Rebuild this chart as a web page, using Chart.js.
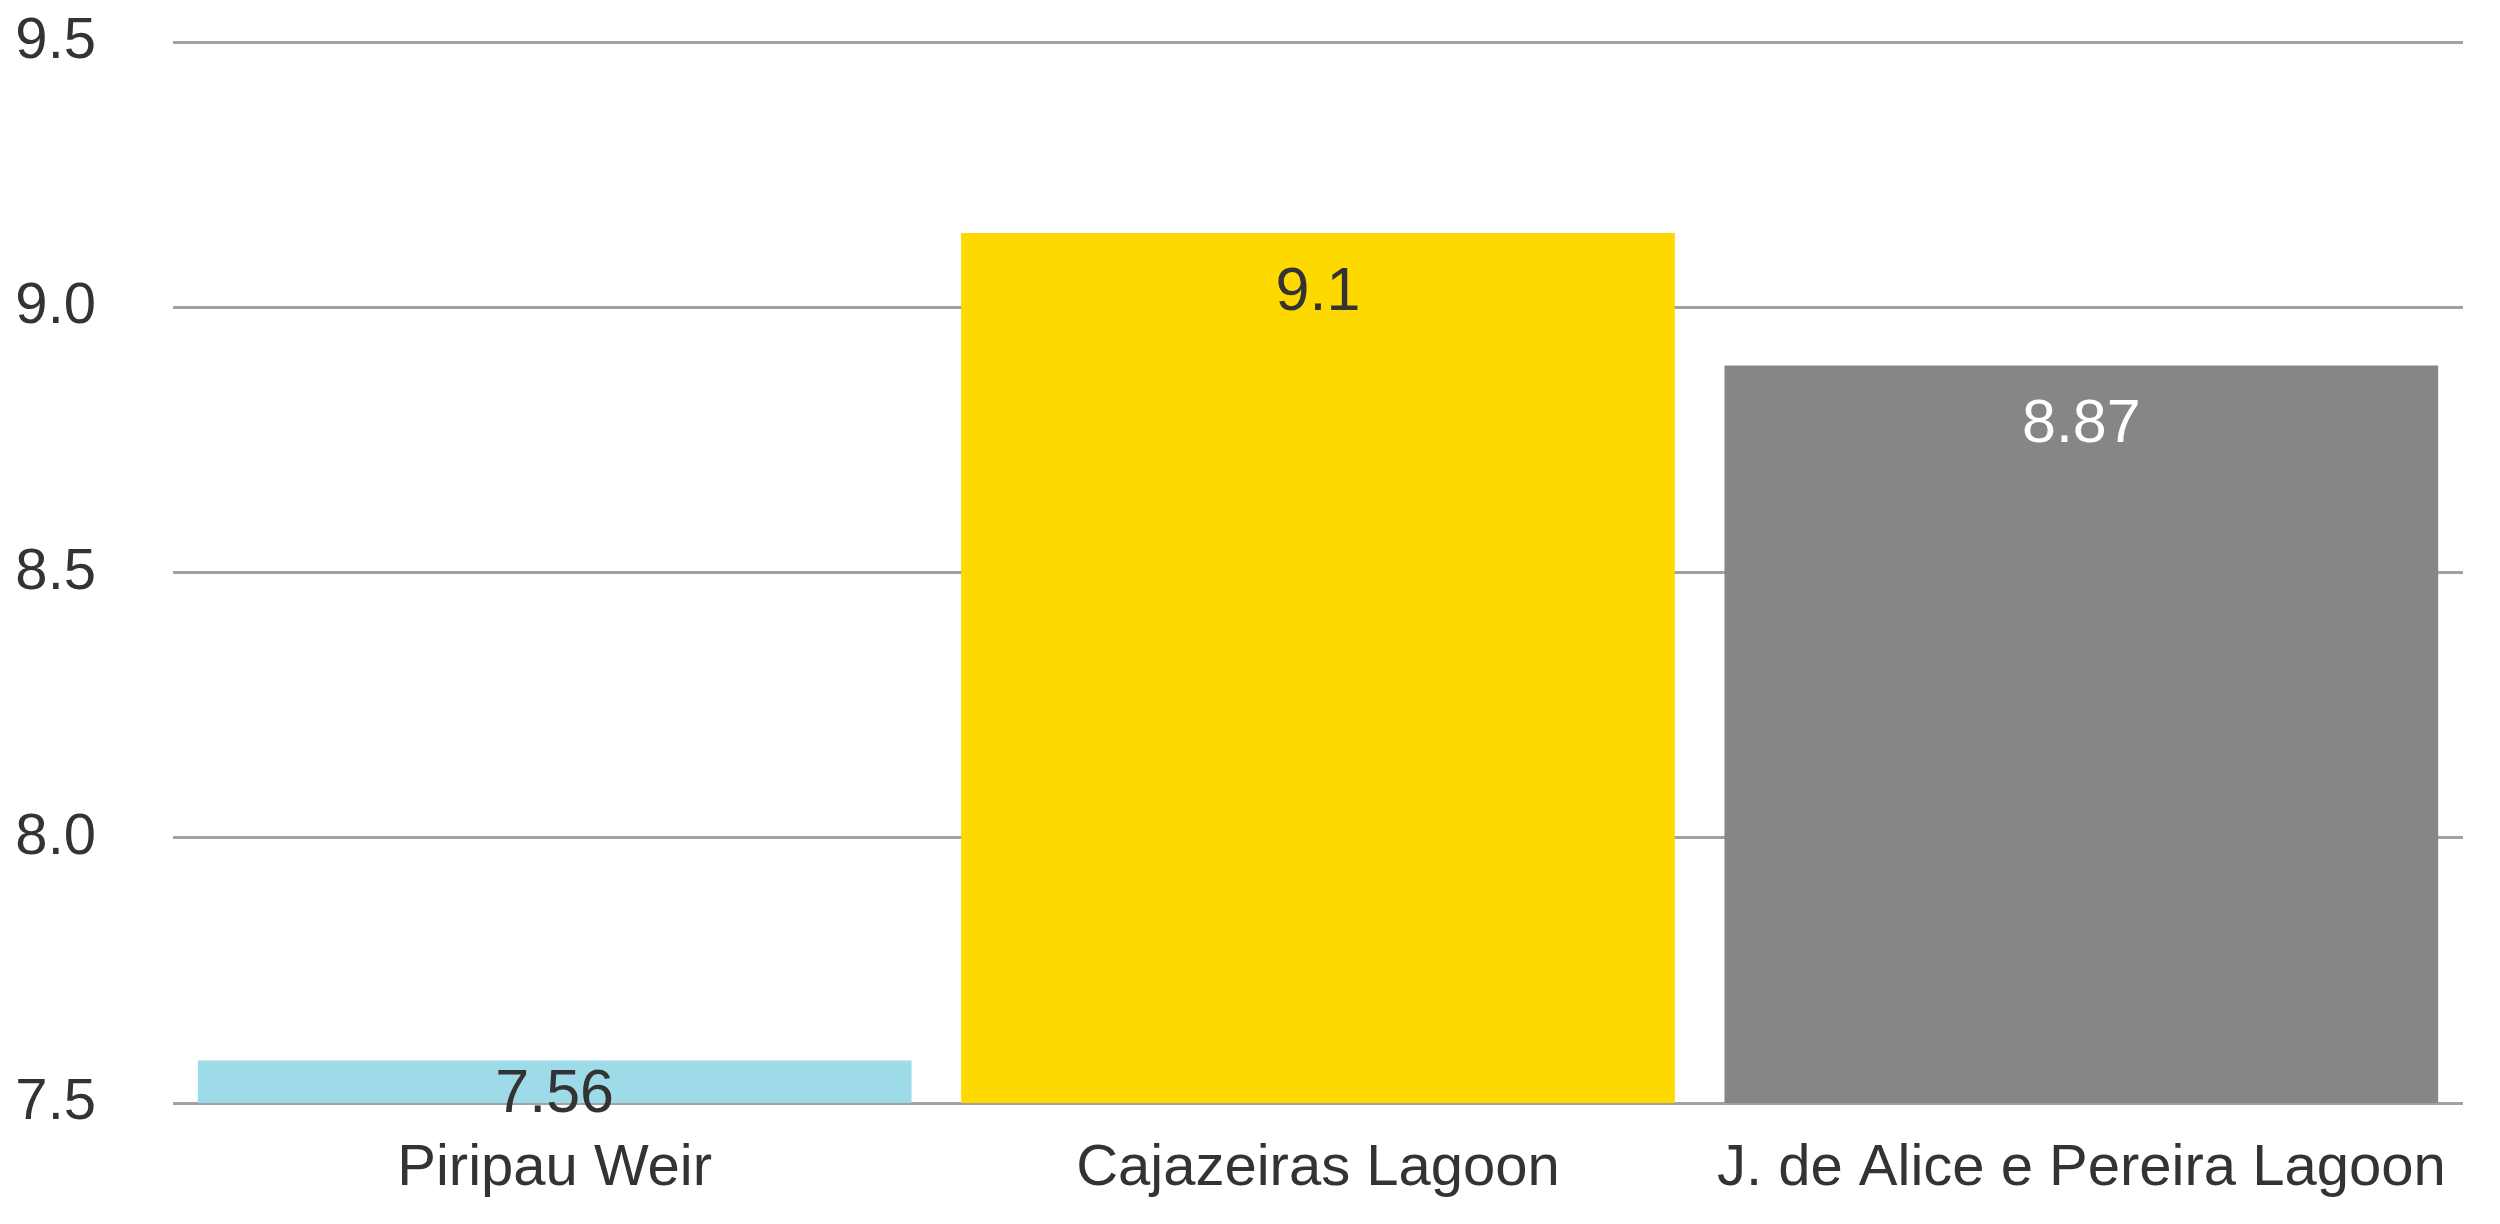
<!DOCTYPE html>
<html>
<head>
<meta charset="utf-8">
<script src="https://cdn.jsdelivr.net/npm/chart.js@4"></script>
<style>
  html, body { margin: 0; padding: 0; background: #ffffff; }
  #wrap { width: 2500px; height: 1224px; }
</style>
</head>
<body>
<div id="wrap"><canvas id="barChart" width="2500" height="1224"></canvas></div>
<script>
// --- data ---
const categories = ['Piripau Weir', 'Cajazeiras Lagoon', 'J. de Alice e Pereira Lagoon'];
const barValues = [7.58, 9.14, 8.89];          // bar heights as drawn
const valueLabels = ['7.56', '9.1', '8.87'];   // printed values
const barColors = ['#9edbe9', '#fed900', '#848786'];
const labelColors = ['#333333', '#333333', '#ffffff'];
const yTicks = [7.5, 8.0, 8.5, 9.0, 9.5];

const fontFamily = "'Liberation Sans', Arial, sans-serif";

// draws the value text inside each bar
const valueLabelPlugin = {
    id: 'valueLabels',
    afterDatasetsDraw(chart) {
        const ctx = chart.ctx;
        const meta = chart.getDatasetMeta(0);
        const bottom = chart.scales.y.bottom;
        ctx.save();
        ctx.font = '61px ' + fontFamily;
        ctx.textAlign = 'center';
        ctx.textBaseline = 'middle';
        meta.data.forEach((bar, i) => {
            const y = Math.min(bar.y + 60, bottom - 8);
            ctx.fillStyle = labelColors[i];
            ctx.fillText(valueLabels[i], bar.x, y);
        });
        ctx.restore();
    }
};

const ctx = document.getElementById('barChart').getContext('2d');
new Chart(ctx, {
    type: 'bar',
    data: {
        labels: categories,
        datasets: [{
            data: barValues,
            backgroundColor: barColors,
            borderWidth: 0,
            barPercentage: 0.935,
            categoryPercentage: 1.0
        }]
    },
    options: {
        responsive: false,
        animation: false,
        devicePixelRatio: 1,
        layout: { padding: { top: 42, right: 37, left: 0, bottom: 0 } },
        plugins: {
            legend: { display: false },
            tooltip: { enabled: false }
        },
        scales: {
            x: {
                grid: { display: false, drawTicks: false },
                border: { display: false },
                ticks: {
                    color: '#333333',
                    padding: 31,
                    maxRotation: 0,
                    font: { family: fontFamily, size: 58 }
                },
                afterFit: (scale) => { scale.height = 121; }
            },
            y: {
                min: 7.5,
                max: 9.5,
                afterBuildTicks: (scale) => { scale.ticks = yTicks.map(v => ({ value: v })); },
                grid: { color: '#a2a2a2', lineWidth: 3, drawTicks: false },
                border: { display: false },
                ticks: {
                    color: '#333333',
                    padding: 77,
                    font: { family: fontFamily, size: 58 },
                    callback: (v) => Number(v).toFixed(1)
                },
                afterFit: (scale) => {
                    scale.width = 173;
                    scale.paddingTop = 0;
                    scale.paddingBottom = 0;
                }
            }
        }
    },
    plugins: [valueLabelPlugin]
});
</script>
</body>
</html>
